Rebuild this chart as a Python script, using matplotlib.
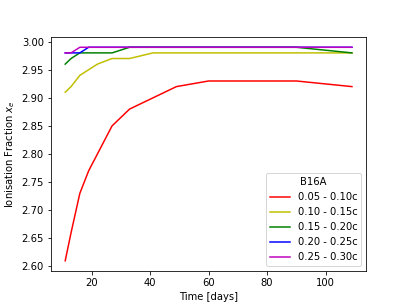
import matplotlib
matplotlib.use("Agg")
import matplotlib.pyplot as plt

times = [11, 13, 16, 19, 22, 27, 33, 41, 49, 60, 90, 109]

xe_005_010 = [2.61, 2.66, 2.73, 2.77, 2.80, 2.85, 2.88, 2.90, 2.92, 2.93, 2.93, 2.92]
xe_010_015 = [2.91, 2.92, 2.94, 2.95, 2.96, 2.97, 2.97, 2.98, 2.98, 2.98, 2.98, 2.98]
xe_015_020 = [2.96, 2.97, 2.98, 2.98, 2.98, 2.98, 2.99, 2.99, 2.99, 2.99, 2.99, 2.98]
xe_020_025 = [2.98, 2.98, 2.98, 2.99, 2.99, 2.99, 2.99, 2.99, 2.99, 2.99, 2.99, 2.99]
xe_025_030 = [2.98, 2.98, 2.99, 2.99, 2.99, 2.99, 2.99, 2.99, 2.99, 2.99, 2.99, 2.99]

labels = ["0.05 - 0.10c", "0.10 - 0.15c", "0.15 - 0.20c", "0.20 - 0.25c", "0.25 - 0.30c"]
colors = ["r", "y", "g", "b", "m"]

fig = plt.figure(figsize=(407 / 72, 305 / 72), dpi=72)
series = [xe_005_010, xe_010_015, xe_015_020, xe_020_025, xe_025_030]
for vals, lab, c in zip(series, labels, colors):
    plt.plot(times, vals, color=c, label=lab)

plt.xlabel("Time [days]")
plt.ylabel("Ionisation Fraction $x_e$")
plt.legend(title="B16A", loc="lower right")
plt.savefig("out.png", dpi=72)
